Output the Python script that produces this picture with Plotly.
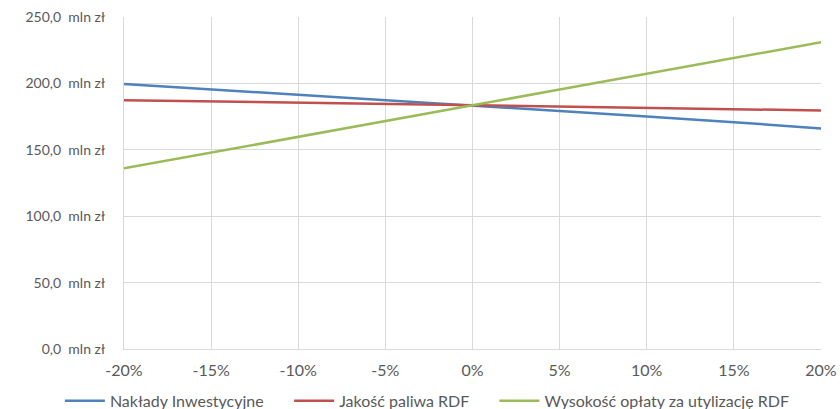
import plotly.graph_objects as go

x_vals = [-20, -15, -10, -5, 0, 5, 10, 15, 20]
x_labels = ["-20%", "-15%", "-10%", "-5%", "0%", "5%", "10%", "15%", "20%"]

naklady = [199.6, 195.6, 191.4, 187.6, 183.5, 179.1, 175.1, 170.8, 166.1]
jakosc = [187.4, 186.4, 185.1, 184.2, 183.5, 182.3, 181.6, 180.6, 179.6]
oplata = [136.0, 148.0, 160.0, 171.8, 183.5, 195.4, 207.2, 219.0, 231.0]

y_vals = [0, 50, 100, 150, 200, 250]
y_labels = ["0,0\u00a0 mln zł", "50,0\u00a0 mln zł", "100,0\u00a0 mln zł", "150,0\u00a0 mln zł", "200,0\u00a0 mln zł", "250,0\u00a0 mln zł"]

series_names = ["Nakłady Inwestycyjne", "Jakość paliwa RDF", "Wysokość opłaty za utylizację RDF"]
series_values = [naklady, jakosc, oplata]
series_colors = ["#4F81BD", "#C0504D", "#9BBB59"]

pad = "\u00a0" * 5
fig = go.Figure()
for i, (name, vals, color) in enumerate(zip(series_names, series_values, series_colors)):
    label = name + (pad if i < len(series_names) - 1 else "")
    fig.add_trace(go.Scatter(x=x_vals, y=vals, mode="lines", name=label,
                             line=dict(color=color, width=2.5)))

font_family = "Lato, Open Sans, sans-serif"
fs = 16
fig.update_layout(
    width=840, height=409,
    margin=dict(l=124, r=19, t=17, b=60, autoexpand=False),
    paper_bgcolor="white", plot_bgcolor="white",
    font=dict(family=font_family, size=fs, color="#595959"),
    showlegend=True,
    legend=dict(orientation="h", x=-0.092, xanchor="left", y=-0.105, yanchor="top",
                font=dict(size=fs, color="#595959"), itemwidth=40,
                tracegroupgap=0),
    xaxis=dict(range=[-20, 20], tickvals=x_vals, ticktext=x_labels,
               showgrid=True, gridcolor="#D9D9D9", gridwidth=1,
               showline=True, linecolor="#D9D9D9", linewidth=1,
               zeroline=False, ticks="", ticklabelstandoff=7, automargin=False,
               tickfont=dict(size=fs, color="#595959")),
    yaxis=dict(range=[0, 250], tickvals=y_vals, ticktext=y_labels,
               showgrid=True, gridcolor="#D9D9D9", gridwidth=1,
               showline=True, linecolor="#D9D9D9", linewidth=1,
               zeroline=False, ticks="", ticklabelstandoff=15, automargin=False,
               tickfont=dict(size=14, color="#595959")),
)

fig.write_html("out.html", config={"displayModeBar": False},
               post_script="document.body.style.margin='0px';document.body.style.overflow='hidden';")
